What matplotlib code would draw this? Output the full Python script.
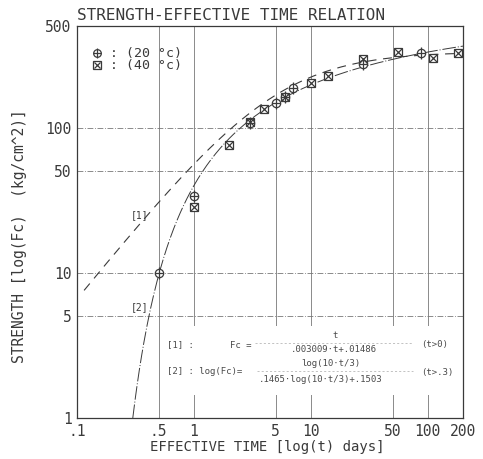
import numpy as np
import matplotlib
matplotlib.use("Agg")
import matplotlib.pyplot as plt
from matplotlib.patches import Rectangle

# measured points (effective time in days, strength kg/cm^2)
t_20 = [0.5, 1, 3, 5, 6, 7, 28, 88]
fc_20 = [10, 34, 107, 147, 161, 186, 272, 325]
t_40 = [1, 2, 3, 4, 6, 10, 14, 28, 56, 111, 180]
fc_40 = [28.5, 76, 110, 135, 161, 201, 226, 295, 332, 299, 324]

# fitted curves printed on the chart
C1_A, C1_B = 0.003009, 0.01486      # [1] Fc = t / (A t + B), t > 0
C2_A, C2_B = 0.1465, 0.1503         # [2] log Fc = L / (A L + B), L = log(10 t/3), t > .3

x_ticks = [0.1, 0.5, 1, 5, 10, 50, 100, 200]
x_ticklabels = [".1", ".5", "1", "5", "10", "50", "100", "200"]
y_ticks = [1, 5, 10, 50, 100, 500]
y_ticklabels = ["1", "5", "10", "50", "100", "500"]
grid_x = [0.5, 1, 5, 10, 50, 100]
grid_y = [5, 10, 50, 100]

W, H = 483, 459
INK = "#3a3a3a"
GRID = "#777777"
FONT = "DejaVu Sans Mono"
plt.rcParams["font.family"] = FONT

fig = plt.figure(figsize=(W / 100, H / 100), dpi=100)
fig.patch.set_facecolor("white")
ax = fig.add_axes([77 / W, 1 - 418 / H, 386 / W, 392 / H])
ax.set_xscale("log")
ax.set_yscale("log")
ax.set_xlim(0.1, 200)
ax.set_ylim(1, 500)

for sp in ax.spines.values():
    sp.set_color(INK)
    sp.set_linewidth(0.9)

ax.set_xticks(x_ticks)
ax.set_xticklabels(x_ticklabels)
ax.set_yticks(y_ticks)
ax.set_yticklabels(y_ticklabels)
ax.minorticks_off()
ax.tick_params(length=0, labelsize=10.5, colors=INK, pad=4)

for gx in grid_x:
    ax.axvline(gx, color=GRID, lw=0.6, zorder=1)
for gy in grid_y:
    ax.axhline(gy, color=GRID, lw=0.6, ls=(0, (7, 2, 1, 2)), zorder=1)

# white panel behind the formulas hides the grid
ax.add_patch(Rectangle(((162 - 77) / 386, (418 - 395) / 392), (460 - 162) / 386, (395 - 326) / 392,
                       transform=ax.transAxes, facecolor="white", edgecolor="none", zorder=2))

# curve [1]
t1 = np.logspace(np.log10(0.115), np.log10(200), 300)
f1 = t1 / (C1_A * t1 + C1_B)
ax.plot(t1, f1, color=INK, lw=0.8, ls=(0, (8, 6)), zorder=3)

# curve [2]
t2 = np.logspace(np.log10(0.3), np.log10(200), 300)
L = np.log(10 * t2 / 3)
f2 = np.exp(L / (C2_A * L + C2_B))
ax.plot(t2, f2, color=INK, lw=0.7, ls=(0, (14, 2, 1, 2)), zorder=3)


def circ_marker(x, y, ms=6):
    ax.plot(x, y, ls="none", marker="o", ms=ms, mfc="white", mec=INK, mew=0.9, zorder=5)
    ax.plot(x, y, ls="none", marker="|", ms=ms * 1.4, mec=INK, mew=0.9, zorder=6)
    ax.plot(x, y, ls="none", marker="_", ms=ms, mec=INK, mew=0.9, zorder=6)


def sq_marker(x, y, ms=6):
    ax.plot(x, y, ls="none", marker="s", ms=ms, mfc="white", mec=INK, mew=0.9, zorder=5)
    ax.plot(x, y, ls="none", marker="x", ms=ms * 0.85, mec=INK, mew=0.9, zorder=6)


sq_marker(t_40, fc_40)
circ_marker(t_20, fc_20)

# legend
circ_marker([0.148], [325], ms=5.5)
sq_marker([0.148], [269], ms=5.5)
ax.text(0.19, 325, ": (20 \u00b0c)", fontsize=9.5, color=INK, va="center")
ax.text(0.19, 269, ": (40 \u00b0c)", fontsize=9.5, color=INK, va="center")

# curve labels
ax.text(0.345, 25, "[1]", fontsize=7, color=INK, ha="center", va="center")
ax.text(0.345, 5.84, "[2]", fontsize=7, color=INK, ha="center", va="center")


def ftxt(x, y, s, **kw):
    kw.setdefault("fontsize", 6.5)
    kw.setdefault("color", "#4a4a4a")
    kw.setdefault("va", "center")
    fig.text(x / W, 1 - y / H, s, **kw)


ftxt(167, 345, "[1] :")
ftxt(230, 345, "Fc = ")
ftxt(335, 336, "t", ha="center")
ftxt(334, 350, ".003009\u00b7t+.01486", ha="center")
fig.add_artist(plt.Line2D([255 / W, 413 / W], [1 - 343 / H, 1 - 343 / H], color="#aaaaaa", lw=0.5,
                          ls=(0, (3, 3))))
ftxt(421, 344, "(t>0)")

ftxt(167, 372, "[2] : log(Fc)=")
ftxt(331, 363, "log(10\u00b7t/3)", ha="center")
ftxt(321, 379, ".1465\u00b7log(10\u00b7t/3)+.1503", ha="center")
fig.add_artist(plt.Line2D([257 / W, 413 / W], [1 - 371 / H, 1 - 371 / H], color="#aaaaaa", lw=0.5,
                          ls=(0, (3, 3))))
ftxt(421, 372, "(t>.3)")

fig.text(77 / W, 1 - 15 / H, "STRENGTH-EFFECTIVE TIME RELATION", fontsize=11.5, color=INK,
         va="center", ha="left")
fig.text(267 / W, 1 - 447 / H, "EFFECTIVE TIME [log(t) days]", fontsize=10, color=INK,
         va="center", ha="center")
fig.text(20 / W, 1 - 236 / H, "STRENGTH [log(Fc)  (kg/cm^2)]", fontsize=10.5, color=INK,
         va="center", ha="center", rotation=90)

fig.savefig("out.png", dpi=100, facecolor="white")
